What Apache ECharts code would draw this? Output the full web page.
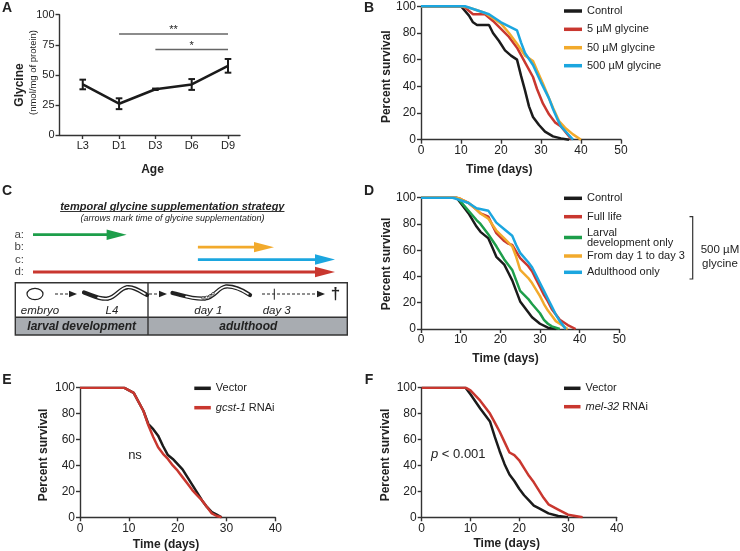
<!DOCTYPE html>
<html>
<head>
<meta charset="utf-8">
<script src="https://cdn.jsdelivr.net/npm/echarts@6/dist/echarts.min.js"></script>
<style>html,body{margin:0;padding:0;background:#fff}#chart{width:740px;height:551px}</style>
</head>
<body>
<div id="chart"></div>
<script>
// ---- data ---------------------------------------------------------------
// A: glycine level by age
const AGE = ['L3', 'D1', 'D3', 'D6', 'D9'];
const GLY_MEAN = [42, 26, 38, 42, 57.5];
const GLY_ERR = [4, 4.5, 0.6, 4.5, 5.7];
const SIG_FROM = [1, 2];
const SIG_TO = [4, 4];
const SIG_Y = [84, 71];
const SIG_TEXT = ['**', '*'];

// B: survival with glycine doses  [day, % alive]
const B_CONTROL = [[0,100],[10,100],[12,93],[13,88],[14,86],[17,86],[18,80],[19.5,74],[21,67],[22.5,63],[24,60],[25,48],[26,37],[27,25],[28,17],[29.5,11],[31,6],[33,2.5],[35,1],[37,0]];
const B_5UM = [[0,100],[10,100],[11,99],[13,94],[16,94],[18,89],[20,83],[22,77],[24,69],[26,58],[28,47],[29,38],[30.5,27],[32,19],[33.5,13],[35,10],[37.7,0]];
const B_50UM = [[0,100],[10,100],[12,99],[14,97],[16,95],[18,91],[20,87],[22,80],[24,72],[26,63],[27,61],[28,59],[29,52],[30.5,42],[32,31],[33,24],[34.5,14],[36,9],[38,4],[40,0]];
const B_500UM = [[0,100],[11,100],[14,97],[17,94],[20,88],[22,85],[24,82],[25,73],[26,65],[28,56],[30,43],[32,31],[33,23],[34,16],[35,10],[36.5,5],[38,0]];

// C: supplementation windows on a 0-100 timeline
const ROWS = ['a:', 'b:', 'c:', 'd:'];
const ARROW_START = [0, 54.6, 54.6, 0];
const ARROW_END = [31, 79.8, 100, 100];

// D: temporal supplementation survival
const D_CONTROL = [[0,100],[9,100],[10,96],[12,88],[14,78],[15,74],[17,69],[18,62],[19,55],[21,49],[22,43],[23,37],[24,29],[25,21],[26,17],[27,13],[28,9],[30,4],[32,1],[34,0]];
const D_FULL = [[0,100],[9,100],[10,99],[12,96],[14,91],[15,88],[17,85.5],[18,79],[19,73],[20,70],[21,67],[22,65],[23,64],[24,59],[25,54],[27,48],[28,44],[29,38],[30,32],[31,26],[32,21],[33,15],[34,11],[35,7],[37,3],[39,0]];
const D_LARVAL = [[0,100],[9,100],[10,97],[12,90],[14,83],[15,80],[17,72],[19,63],[21,53],[23,45],[24,37],[25,29],[27,23],[28,19],[30,12],[31,7],[32,4],[33,2],[35,0]];
const D_DAY13 = [[0,100],[9,100],[10,99],[12,96],[14,91],[15,88],[17,84],[19,75],[21,69],[23,63],[24,55],[25,45],[27,39],[28,35],[30,25],[31,19],[32,14],[33,10],[34,6],[35,4],[37,0]];
const D_ADULT = [[0,100],[8,100],[9,99],[12,96],[14,92],[17,90],[19,81],[21,76],[23,71],[24,64],[25,58],[27,51],[28,47],[29,41],[30,35],[31,29],[32,23],[33,17],[34,11],[35,6],[36,2],[36.5,0]];

// E / F: RNAi survival
const E_VECTOR = [[0,100],[9,100],[11,96],[13,82],[14,72],[15,68],[16,63],[17,55],[18,48],[19,45],[20,41],[21,37],[22,31],[23,25],[24,19],[25,13],[26,8],[27,4],[28,2],[29,0]];
const E_GCST = [[0,100],[9,100],[11,96],[13,82],[14,71],[15,62],[16,54],[17,49],[18,45],[19,40],[20,36],[21,31],[22,26],[23,21],[24,17],[25,13],[26,8],[27,3],[28,1],[29,0]];
const F_VECTOR = [[0,100],[9,100],[10,95],[12,84],[14,74],[15,62],[16,51],[17,41],[18,33],[19,28],[20,22],[21,17],[22,13],[23,9],[24,7],[26,3],[28,1],[30,0]];
const F_MEL = [[0,100],[9,100],[10,98],[12,90],[14,80],[15,73],[16,66],[17,58],[18,50],[19,48],[20,44],[21,38],[22,32],[23,27],[24,21],[25,15],[26,10],[28,6],[30,2],[33,0]];

// ---- style ----------------------------------------------------------------
const FONT = '"Liberation Sans", Arial, Helvetica, sans-serif';
const INK = '#222';
const AX = '#333';
const COL = { black:'#1b1b1b', red:'#c9372f', orange:'#f2aa2c', blue:'#1ba6df', green:'#1d9e4a' };
const ARROW_COLORS = [COL.green, COL.orange, COL.blue, COL.red];

const chart = echarts.init(document.getElementById('chart'), null, { renderer:'canvas' });

const GRIDS = [
  { left:59.5, top:14.7, width:180.5, height:120.3 },   // A
  { left:421, top:6.3, width:200, height:133.4 },       // B
  { left:33, top:228.5, width:302, height:49.7 },       // C arrows
  { left:421, top:197.7, width:198.3, height:131.3 },   // D
  { left:80, top:387.7, width:195.3, height:129.6 },    // E
  { left:421.7, top:387.7, width:195, height:129.6 }    // F
];

function valAxis(gi, min, max, interval, fs) {
  return {
    gridIndex:gi, type:'value', min, max, interval,
    axisLine:{ show:true, onZero:false, lineStyle:{ color:AX, width:1.4 } },
    axisTick:{ show:true, length:4, lineStyle:{ color:AX, width:1.4 } },
    axisLabel:{ color:INK, fontSize:fs, fontFamily:FONT, margin:5 },
    splitLine:{ show:false }
  };
}

const xAxes = [
  Object.assign(valAxis(0, -0.64, 4.33, null, 11), {
    axisLabel:{ color:INK, fontSize:11, fontFamily:FONT, margin:5,
      customValues:[0,1,2,3,4], formatter:v => AGE[Math.round(v)] },
    axisTick:{ show:true, length:4, customValues:[0,1,2,3,4], lineStyle:{ color:AX, width:1.4 } }
  }),
  valAxis(1, 0, 50, 10, 12),
  { gridIndex:2, type:'value', min:0, max:100, show:false },
  valAxis(3, 0, 50, 10, 12),
  valAxis(4, 0, 40, 10, 12),
  valAxis(5, 0, 40, 10, 12)
];
const yAxes = [
  valAxis(0, 0, 100, 25, 11),
  valAxis(1, 0, 100, 20, 12),
  { gridIndex:2, type:'category', data:ROWS, inverse:true,
    axisLine:{ show:false }, axisTick:{ show:false }, splitLine:{ show:false },
    axisLabel:{ color:'#444', fontSize:11.5, fontFamily:FONT, margin:9, interval:0 } },
  valAxis(3, 0, 100, 20, 12),
  valAxis(4, 0, 100, 20, 12),
  valAxis(5, 0, 100, 20, 12)
];

function survLine(name, data, color, gi) {
  return { name, type:'line', xAxisIndex:gi, yAxisIndex:gi, data, symbol:'none',
    lineStyle:{ width:2.5, color }, itemStyle:{ color }, silent:true };
}

const series = [
  // A
  { type:'line', xAxisIndex:0, yAxisIndex:0, symbol:'none', silent:true,
    data:AGE.map((_, i) => [i, GLY_MEAN[i]]), lineStyle:{ width:2.5, color:COL.black } },
  { type:'custom', xAxisIndex:0, yAxisIndex:0, silent:true,
    data:AGE.map((_, i) => [i, GLY_MEAN[i], GLY_ERR[i]]),
    renderItem:(p, api) => {
      const x = api.value(0), y = api.value(1), e = api.value(2);
      const t = api.coord([x, y + e]), b = api.coord([x, y - e]);
      const st = { stroke:COL.black, lineWidth:2 };
      return { type:'group', children:[
        { type:'line', shape:{ x1:t[0], y1:t[1], x2:b[0], y2:b[1] }, style:st },
        { type:'line', shape:{ x1:t[0]-3.3, y1:t[1], x2:t[0]+3.3, y2:t[1] }, style:st },
        { type:'line', shape:{ x1:b[0]-3.3, y1:b[1], x2:b[0]+3.3, y2:b[1] }, style:st }
      ]};
    } },
  { type:'custom', xAxisIndex:0, yAxisIndex:0, silent:true,
    data:SIG_FROM.map((f, i) => [f, SIG_Y[i], SIG_TO[i]]),
    renderItem:(p, api) => {
      const a = api.coord([api.value(0), api.value(1)]);
      const b = api.coord([api.value(2), api.value(1)]);
      return { type:'group', children:[
        { type:'line', shape:{ x1:a[0], y1:a[1], x2:b[0], y2:b[1] }, style:{ stroke:'#666', lineWidth:1.5 } },
        { type:'text', x:(a[0]+b[0])/2, y:a[1]-4, style:{ text:SIG_TEXT[p.dataIndex], fill:INK,
          font:'11px ' + FONT, align:'center', verticalAlign:'middle' } }
      ]};
    } },
  // B
  survLine('Control', B_CONTROL, COL.black, 1),
  survLine('5 µM glycine', B_5UM, COL.red, 1),
  survLine('50 µM glycine', B_50UM, COL.orange, 1),
  survLine('500 µM glycine', B_500UM, COL.blue, 1),
  // C arrows
  { type:'custom', xAxisIndex:2, yAxisIndex:2, silent:true, encode:{ x:[0,2], y:1 },
    data:ROWS.map((_, i) => [ARROW_START[i], i, ARROW_END[i]]),
    renderItem:(p, api) => {
      const s = api.coord([api.value(0), api.value(1)]);
      const e = api.coord([api.value(2), api.value(1)]);
      const col = ARROW_COLORS[p.dataIndex];
      return { type:'group', children:[
        { type:'line', shape:{ x1:s[0], y1:s[1], x2:e[0]-16, y2:e[1] }, style:{ stroke:col, lineWidth:2.8 } },
        { type:'polygon', shape:{ points:[[e[0]-20, e[1]-5.2], [e[0], e[1]], [e[0]-20, e[1]+5.2]] }, style:{ fill:col } }
      ]};
    } },
  // D
  survLine('Control', D_CONTROL, COL.black, 3),
  survLine('Larval\ndevelopment only', D_LARVAL, COL.green, 3),
  survLine('Full life', D_FULL, COL.red, 3),
  survLine('From day 1 to day 3', D_DAY13, COL.orange, 3),
  survLine('Adulthood only', D_ADULT, COL.blue, 3),
  // E
  survLine('Vector', E_VECTOR, COL.black, 4),
  survLine('gcst-1 RNAi', E_GCST, COL.red, 4),
  // F
  survLine('Vector', F_VECTOR, COL.black, 5),
  survLine('mel-32 RNAi', F_MEL, COL.red, 5)
];

// one legend per entry so each row sits where the figure has it
function legItem(name, left, yc, w, lh) {
  lh = lh || 13;
  const lines = name.split('\n').length;
  return {
    data:[name], left, top:yc - lh * lines / 2, orient:'vertical', padding:0, selectedMode:false,
    icon:'rect', itemWidth:w, itemHeight:3.5,
    textStyle:{ color:INK, fontSize:11, fontFamily:FONT, lineHeight:lh,
      rich:{ i:{ fontStyle:'italic', fontSize:11, fontFamily:FONT, color:INK } } },
    formatter:n => n.endsWith(' RNAi') ? '{i|' + n.replace(' RNAi', '') + '} RNAi' : n
  };
}
const legends = [
  legItem('Control', 564, 11, 18), legItem('5 µM glycine', 564, 29.3, 18),
  legItem('50 µM glycine', 564, 47.7, 18), legItem('500 µM glycine', 564, 65.7, 18),
  legItem('Control', 564, 198.3, 18), legItem('Full life', 564, 216.7, 18),
  legItem('Larval\ndevelopment only', 564, 237, 18, 10), legItem('From day 1 to day 3', 564, 256, 18),
  legItem('Adulthood only', 564, 272.3, 18),
  legItem('Vector', 194.3, 388.3, 16.5), legItem('gcst-1 RNAi', 194.3, 407.7, 16.5),
  legItem('Vector', 564, 388.3, 16.5), legItem('mel-32 RNAi', 564, 406.7, 16.5)
];

// ---- annotations ------------------------------------------------------------
function txt(x, y, text, font, extra) {
  return Object.assign({ type:'text', x, y, silent:true,
    style:{ text, font:font + ' ' + FONT, fill:INK, align:'center', verticalAlign:'middle' } }, extra || {});
}
function vtxt(x, y, text, font) { return txt(x, y, text, font, { rotation:Math.PI / 2 }); }
// a worm outline: chain of cubic segments [x1,y1,c1x,c1y,c2x,c2y,x2,y2]
function bez(segs, stroke, w) {
  return segs.map(s => ({ type:'bezierCurve', silent:true,
    shape:{ x1:s[0], y1:s[1], cpx1:s[2], cpy1:s[3], cpx2:s[4], cpy2:s[5], x2:s[6], y2:s[7] },
    style:{ stroke, lineWidth:w, fill:null, lineCap:'round' } }));
}

const TITLE_C = 'temporal glycine supplementation strategy';
const ctx = document.createElement('canvas').getContext('2d');
ctx.font = 'italic bold 11px ' + FONT;
const titleW = ctx.measureText(TITLE_C).width;

const WORM_L4 = [[84,292.5,92,295,100,300,108,298.5],[108,298.5,116,297,120,288,127,287.3],[127,287.3,134,286.5,140,291,147,295]];
const WORM_L4_IN = [[98,297.6,102,299,105,299,108,298.5],[108,298.5,116,297,120,288,127,287.3],[127,287.3,134,286.5,140,291,145,294]];
const WORM_D1 = [[172.5,293,182,295,192,299.5,205,298.5],[205,298.5,215,297.5,218,287,226,286.5],[226,286.5,236,286,244,291,250,295]];
const WORM_D1_IN = [[186,296.6,192,298.5,198,299,205,298.5],[205,298.5,215,297.5,218,287,226,286.5],[226,286.5,236,286,243,291,248,294]];

const box = { stroke:'#333', lineWidth:1.4 };
const graphic = [
  // panel letters
  txt(7, 8, 'A', 'bold 14px'), txt(369, 8, 'B', 'bold 14px'),
  txt(7, 191, 'C', 'bold 14px'), txt(369, 191, 'D', 'bold 14px'),
  txt(7, 380, 'E', 'bold 14px'), txt(369, 380, 'F', 'bold 14px'),
  // axis titles
  vtxt(20, 85, 'Glycine', 'bold 12px'), vtxt(33, 72.5, '(nmol/mg of protein)', '9.5px'),
  txt(152.5, 170, 'Age', 'bold 12px'),
  vtxt(387, 76.7, 'Percent survival', 'bold 12px'), txt(499.3, 169.3, 'Time (days)', 'bold 12px'),
  vtxt(387, 264, 'Percent survival', 'bold 12px'), txt(505.5, 359, 'Time (days)', 'bold 12px'),
  vtxt(44, 455, 'Percent survival', 'bold 12px'), txt(166, 545, 'Time (days)', 'bold 12px'),
  vtxt(386, 455, 'Percent survival', 'bold 12px'), txt(506.7, 544, 'Time (days)', 'bold 12px'),
  // E / F statistics
  txt(135, 455.7, 'ns', '13px'),
  { type:'text', x:431, y:454.3, silent:true, style:{ text:'{i|p} < 0.001', font:'13px ' + FONT, fill:INK,
    align:'left', verticalAlign:'middle', rich:{ i:{ fontStyle:'italic', fontSize:13, fontFamily:FONT, fill:INK } } } },
  // D bracket
  { type:'polyline', silent:true, shape:{ points:[[689.5,216.7],[692.7,216.7],[692.7,279],[689.5,279]] },
    style:{ stroke:'#333', lineWidth:1.2, fill:null } },
  txt(720, 249.7, '500 µM', '11.5px'), txt(720, 263.7, 'glycine', '11.5px'),
  // C heading
  txt(172.3, 206.5, TITLE_C, 'italic bold 11px'),
  { type:'line', silent:true, shape:{ x1:172.3 - titleW/2, y1:211.5, x2:172.3 + titleW/2, y2:211.5 }, style:{ stroke:'#333', lineWidth:1 } },
  txt(172.5, 218.8, '(arrows mark time of glycine supplementation)', 'italic 9px'),
  // C life-stage box
  { type:'rect', silent:true, shape:{ x:15.3, y:317.3, width:332, height:17.7 }, style:{ fill:'#a8acb1' } },
  { type:'rect', silent:true, shape:{ x:15.3, y:282.7, width:332, height:52.3 }, style:Object.assign({ fill:null }, box) },
  { type:'line', silent:true, shape:{ x1:15.3, y1:317.3, x2:347.3, y2:317.3 }, style:box },
  { type:'line', silent:true, shape:{ x1:148, y1:282.7, x2:148, y2:335 }, style:box },
  { type:'ellipse', silent:true, shape:{ cx:35, cy:294, rx:8, ry:5.7 }, style:{ stroke:'#222', lineWidth:1.2, fill:'#fff' } },
  // dashed arrows
  { type:'line', silent:true, shape:{ x1:55, y1:294, x2:70, y2:294 }, style:{ stroke:'#222', lineWidth:1.1, lineDash:[3,2] } },
  { type:'polygon', silent:true, shape:{ points:[[69,290.8],[77,294],[69,297.2]] }, style:{ fill:'#222' } },
  { type:'line', silent:true, shape:{ x1:149, y1:294, x2:160, y2:294 }, style:{ stroke:'#222', lineWidth:1.1, lineDash:[3,2] } },
  { type:'polygon', silent:true, shape:{ points:[[159,290.8],[167,294],[159,297.2]] }, style:{ fill:'#222' } },
  { type:'line', silent:true, shape:{ x1:262, y1:294, x2:318, y2:294 }, style:{ stroke:'#222', lineWidth:1.1, lineDash:[3,2] } },
  { type:'line', silent:true, shape:{ x1:274.3, y1:288.7, x2:274.3, y2:299.7 }, style:{ stroke:'#222', lineWidth:1 } },
  { type:'polygon', silent:true, shape:{ points:[[317,290.8],[325,294],[317,297.2]] }, style:{ fill:'#222' } },
  txt(335.5, 294, '†', 'bold 17px'),
  // worms
  ...bez(WORM_L4, '#222', 4.2), ...bez(WORM_L4_IN, '#fff', 1.6),
  ...bez(WORM_D1, '#222', 4.2), ...bez(WORM_D1_IN, '#fff', 1.6),
  ...[[203,298],[206.5,297.4],[210,296],[213,293.8]].map(c => ({ type:'circle', silent:true,
    shape:{ cx:c[0], cy:c[1], r:1.3 }, style:{ stroke:'#222', lineWidth:0.7, fill:'#fff' } })),
  // stage labels
  txt(40, 310.7, 'embryo', 'italic 11.5px'), txt(112, 310.7, 'L4', 'italic 11.5px'),
  txt(208.3, 310.7, 'day 1', 'italic 11.5px'), txt(276.7, 310.7, 'day 3', 'italic 11.5px'),
  txt(81.7, 326.3, 'larval development', 'italic bold 12px'), txt(248.3, 326.3, 'adulthood', 'italic bold 12px')
];

chart.setOption({
  backgroundColor:'#fff',
  animation:false,
  textStyle:{ fontFamily:FONT },
  grid:GRIDS,
  xAxis:xAxes,
  yAxis:yAxes,
  legend:legends,
  series,
  graphic
});
window.addEventListener('resize', () => chart.resize());
</script>
</body>
</html>
